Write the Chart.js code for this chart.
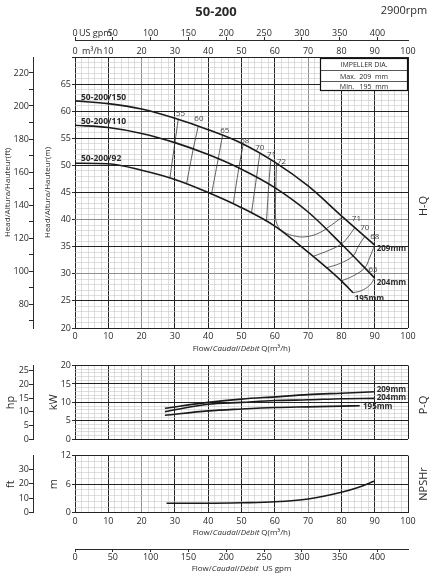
<!DOCTYPE html>
<html>
<head>
<meta charset="utf-8">
<script src="https://cdn.jsdelivr.net/npm/chart.js@4.4.0/dist/chart.umd.min.js"></script>
<style>
  body { margin: 0; background: #fff; }
  #wrap { position: relative; width: 437px; height: 580px; }
  #wrap canvas { position: absolute; left: 0; }
</style>
</head>
<body>
<div id="wrap">
  <canvas id="hq" width="437" height="356" style="top:0px"></canvas>
  <canvas id="pq" width="437" height="92" style="top:356px"></canvas>
  <canvas id="np" width="437" height="132" style="top:448px"></canvas>
</div>
<script>
// H-Q curves, flow in m3/h, head in m
const hqFlow = [0, 10, 20, 30, 40, 50, 60, 70, 80, 90];
const head209 = [61.9, 61.4, 60.4, 58.7, 56.6, 54.1, 50.6, 46.2, 40.7, 35.3];
const head204 = [57.4, 57.0, 55.9, 54.2, 52.0, 49.3, 45.9, 41.4, 35.5, 29.2];
const flow195 = [0, 10, 20, 30, 40, 50, 60, 70, 80, 83.5];
const head195 = [50.4, 50.3, 49.1, 47.4, 45.0, 42.2, 38.8, 34.0, 28.7, 26.5];

// iso-efficiency lines [flow, head]
const eff55 = [[31, 58.5], [30, 54.2], [28.5, 47.7]];
const eff60 = [[37, 57.2], [35.5, 53.0], [33.5, 46.6]];
const eff65 = [[44.3, 55.5], [43, 51.2], [41, 44.7]];
const eff68 = [[50.5, 53.9], [49.2, 49.5], [47.5, 42.9]];
const eff70 = [[55.5, 52.2], [54.5, 47.8], [53, 41.2]];
const eff71 = [[58.8, 51.0], [58.2, 46.5], [57.5, 39.7]];
const eff72 = [[60.5, 50.4], [60.3, 45.8], [60.2, 41.0], [60.7, 39.1], [62.5, 37.8], [66.5, 36.9], [70, 36.9], [73.5, 37.6], [77, 39.0], [80.3, 40.5]];
const eff70b = [[84, 38.5], [82, 36.8], [80, 35.5], [76.5, 34.4], [71.5, 33.2]];
const eff68b = [[87, 36.9], [85, 35.0], [83.5, 33.3], [79.5, 31.9], [75.5, 31.1]];
const eff66b = [[90, 35.3], [88.5, 33.0], [87, 31.1], [83.5, 29.6], [80, 28.7]];
const eff65b = [[90, 29.2], [88.5, 27.9], [86, 26.9], [83.5, 26.5]];

const effText = ['55', '60', '65', '68', '70', '71', '72', '71', '70', '68', '65'];
const effTextFlow = [31.7, 37.2, 45, 51, 55.5, 59, 62, 84.5, 87, 90, 89.5];
const effTextHead = [59.6, 58.6, 56.4, 54.5, 53.2, 51.9, 50.7, 40.1, 38.5, 36.8, 30.7];

const curveNames = ['50-200/150', '50-200/110', '50-200/92'];
const curveNameHead = [62.5, 58.0, 51.2];
const diaText = ['209mm', '204mm', '195mm'];
const diaTextFlow = [90.6, 90.6, 84];
const diaTextHead = [34.6, 28.3, 25.4];

// P-Q, kW
const pqFlow = [27, 40, 50, 60, 70, 80, 90];
const kw209 = [8.4, 10.0, 10.9, 11.5, 12.1, 12.5, 12.9];
const kw204 = [7.5, 9.5, 10.0, 10.5, 10.7, 11.0, 11.1];
const pqFlow195 = [27, 40, 50, 60, 70, 80, 85.5];
const kw195 = [6.5, 7.7, 8.2, 8.6, 8.8, 9.0, 9.1];
const pqTextFlow = [90.6, 90.6, 86.5];
const pqTextKw = [13.4, 11.2, 8.7];

// NPSHr, m
const npFlow = [27.5, 40, 50, 60, 70, 80, 85, 89.8];
const npsh = [2.0, 2.0, 2.1, 2.3, 2.9, 4.3, 5.3, 6.6];

const FT_PER_M = 3.28084;
const HP_PER_KW = 1.341;
const M3H_PER_GPM = 0.22712;

const FONT = "'Open Sans', 'DejaVu Sans', sans-serif";
const TEXT = '#2a2a2a';
const GRID_DARK = '#222';
const GRID_MID = '#8f8f8f';
const GRID_MINOR = '#c8c8c8';

function range(a, b, step) {
  const out = [];
  for (let v = a; v <= b + 1e-9; v += step) out.push(Math.round(v * 100) / 100);
  return out;
}
function isMul(v, step) {
  const r = v / step;
  return Math.abs(r - Math.round(r)) < 1e-6;
}
function pts(xs, ys) { return xs.map((x, i) => ({ x: x, y: ys[i] })); }
function pairs(list) { return list.map(p => ({ x: p[0], y: p[1] })); }
function font(size, style) { return { family: FONT, size: size, style: style || 'normal' }; }

function gridStyle(major, grayList) {
  return {
    color: c => {
      const v = c.tick ? c.tick.value : 0;
      if (!isMul(v, major)) return GRID_MINOR;
      return grayList.includes(v) ? GRID_MID : GRID_DARK;
    },
    lineWidth: c => isMul(c.tick ? c.tick.value : 0, major) ? 1 : 0.6
  };
}

// flow axis shared by all three panels
function flowAxis(showLabels, height) {
  return {
    type: 'linear', position: 'bottom', min: 0, max: 100, weight: 0,
    afterBuildTicks: s => { s.ticks = range(0, 100, 2).map(v => ({ value: v })); },
    afterFit: s => { s.height = height; },
    border: { display: false },
    grid: Object.assign(gridStyle(10, [20, 70]), { drawTicks: false }),
    ticks: {
      display: showLabels, autoSkip: false, maxRotation: 0, padding: 3, color: TEXT, font: font(9),
      callback: v => isMul(v, 10) ? String(v) : ''
    }
  };
}

function valueAxis(min, max, minor, major, gray, width, title, titlePad, topLabel) {
  return {
    type: 'linear', position: 'left', min: min, max: max, weight: 0,
    afterBuildTicks: s => { s.ticks = range(min, max, minor).map(v => ({ value: v })); },
    afterFit: s => { s.width = width; },
    border: { display: false },
    grid: Object.assign(gridStyle(major, gray), {
      drawTicks: true, tickLength: 3,
      tickColor: c => isMul(c.tick.value, major) ? TEXT : 'rgba(0,0,0,0)'
    }),
    ticks: {
      autoSkip: false, padding: 1, color: TEXT, font: font(9),
      callback: v => (isMul(v, major) && (topLabel || v < max)) ? String(v) : ''
    },
    title: { display: true, text: title, color: TEXT, font: font(title.length > 3 ? 8 : 11), padding: { top: titlePad, bottom: 0 } }
  };
}

function unitAxis(min, max, tickVals, labelStep, title, titlePad) {
  return {
    type: 'linear', position: 'left', min: min, max: max, weight: 1,
    afterBuildTicks: s => { s.ticks = tickVals.map(v => ({ value: v })); },
    afterFit: s => { s.width = 33; },
    border: { display: true, color: TEXT, width: 1 },
    grid: { drawOnChartArea: false, drawTicks: true, tickLength: 4, color: TEXT, lineWidth: 1 },
    ticks: {
      autoSkip: false, padding: 0, color: TEXT, font: font(9),
      callback: v => isMul(v, labelStep) ? String(v) : ''
    },
    title: { display: true, text: title, color: TEXT, font: font(title.length > 3 ? 8 : 11), padding: { top: titlePad, bottom: 0 } }
  };
}

function gpmAxis(position, height, pad) {
  return {
    type: 'linear', position: position, min: 0, max: 100 / M3H_PER_GPM, weight: 1,
    afterBuildTicks: s => { s.ticks = range(0, 400, 50).map(v => ({ value: v })); },
    afterFit: s => { s.height = height; },
    border: { display: true, color: TEXT, width: 1 },
    grid: { drawOnChartArea: false, drawTicks: true, tickLength: 3, color: TEXT, lineWidth: 1 },
    ticks: { autoSkip: false, maxRotation: 0, padding: pad, color: TEXT, font: font(9) }
  };
}

function mainLine(data) {
  return { data: data, showLine: true, borderColor: '#1a1a1a', borderWidth: 1.6, pointRadius: 0, cubicInterpolationMode: 'monotone', fill: false };
}
function thinLine(data) {
  return { data: data, showLine: true, borderColor: '#3a3a3a', borderWidth: 0.8, pointRadius: 0, tension: 0.4, fill: false };
}

function vText(ctx, text, x, y, f) {
  ctx.save();
  ctx.translate(x, y);
  ctx.rotate(-Math.PI / 2);
  ctx.font = f;
  ctx.textAlign = 'center';
  ctx.textBaseline = 'middle';
  ctx.fillText(text, 0, 0);
  ctx.restore();
}

function richText(ctx, parts, cx, y, size) {
  let total = 0;
  parts.forEach(p => { ctx.font = p[1] + size + 'px ' + FONT; total += ctx.measureText(p[0]).width; });
  let x = cx - total / 2;
  ctx.textAlign = 'left';
  ctx.textBaseline = 'middle';
  parts.forEach(p => {
    ctx.font = p[1] + size + 'px ' + FONT;
    ctx.fillText(p[0], x, y);
    x += ctx.measureText(p[0]).width;
  });
}

const flowTitle = [['Flow/', ''], ['Caudal', 'italic '], ['/', ''], ['D\u00e9bit', 'italic '], [' Q(m\u00b3/h)', '']];
const gpmTitle = [['Flow/', ''], ['Caudal', 'italic '], ['/', ''], ['D\u00e9bit', 'italic '], ['  US gpm', '']];

const commonOptions = {
  responsive: false,
  maintainAspectRatio: false,
  animation: false,
  events: [],
  plugins: { legend: { display: false }, tooltip: { enabled: false } }
};

// ---------- H-Q panel ----------
const hqText = {
  id: 'hqText',
  afterDatasetsDraw(chart) {
    const { ctx, chartArea: a, scales: { x, y } } = chart;
    ctx.save();
    ctx.fillStyle = TEXT;

    ctx.font = 'bold 8.5px ' + FONT;
    ctx.textAlign = 'left';
    ctx.textBaseline = 'middle';
    curveNames.forEach((t, i) => ctx.fillText(t, x.getPixelForValue(1.8), y.getPixelForValue(curveNameHead[i])));

    ctx.font = 'bold 8px ' + FONT;
    diaText.forEach((t, i) => ctx.fillText(t, x.getPixelForValue(diaTextFlow[i]), y.getPixelForValue(diaTextHead[i])));

    ctx.fillStyle = '#444';
    ctx.font = '8px ' + FONT;
    ctx.textAlign = 'center';
    effText.forEach((t, i) => ctx.fillText(t, x.getPixelForValue(effTextFlow[i]), y.getPixelForValue(effTextHead[i])));

    // impeller table
    const bw = 88, bh = 33, bx = a.right - bw, by = a.top + 1;
    ctx.fillStyle = '#fff';
    ctx.fillRect(bx, by, bw, bh);
    ctx.strokeStyle = '#111';
    ctx.lineWidth = 1.2;
    ctx.strokeRect(bx + 0.5, by + 0.5, bw - 1, bh - 1);
    ctx.lineWidth = 0.7;
    ctx.beginPath();
    ctx.moveTo(bx, by + 12.5); ctx.lineTo(bx + bw, by + 12.5);
    ctx.moveTo(bx, by + 23.5); ctx.lineTo(bx + bw, by + 23.5);
    ctx.stroke();
    ctx.fillStyle = TEXT;
    ctx.font = '7px ' + FONT;
    ctx.textAlign = 'center';
    ctx.fillText('IMPELLER DIA.', bx + bw / 2, by + 7);
    ctx.fillText('Max.  209  mm', bx + bw / 2, by + 18.5);
    ctx.fillText('Min.   195  mm', bx + bw / 2, by + 28.5);
    ctx.restore();
  },
  afterDraw(chart) {
    const { ctx, chartArea: a } = chart;
    ctx.save();
    ctx.fillStyle = TEXT;
    ctx.textBaseline = 'middle';
    ctx.textAlign = 'center';
    ctx.font = 'bold 13px ' + FONT;
    ctx.fillText('50-200', 216, 12);
    ctx.font = '11px ' + FONT;
    ctx.fillText('2900rpm', 404, 11);
    ctx.font = '9px ' + FONT;
    ctx.textAlign = 'left';
    ctx.fillText('US gpm', a.left + 4, 33.5);
    ctx.fillText('m\u00b3/h', a.left + 7, 51.5);
    richText(ctx, flowTitle, (a.left + a.right) / 2, a.bottom + 21, 8);
    vText(ctx, 'H-Q', 424, 206, '11px ' + FONT);
    ctx.restore();
  }
};

new Chart(document.getElementById('hq'), {
  type: 'scatter',
  data: {
    datasets: [
      mainLine(pts(hqFlow, head209)),
      mainLine(pts(hqFlow, head204)),
      mainLine(pts(flow195, head195)),
      ...[eff55, eff60, eff65, eff68, eff70, eff71, eff72, eff70b, eff68b, eff66b, eff65b].map(c => thinLine(pairs(c)))
    ]
  },
  options: Object.assign({}, commonOptions, {
    layout: { padding: { top: 20, left: 0, right: 29, bottom: 0 } },
    scales: {
      x: flowAxis(true, 28),
      xTop: {
        type: 'linear', position: 'top', min: 0, max: 100, weight: 0,
        afterBuildTicks: s => { s.ticks = range(0, 100, 10).map(v => ({ value: v })); },
        afterFit: s => { s.height = 17; },
        border: { display: false },
        grid: { display: false, drawTicks: false },
        ticks: { autoSkip: false, maxRotation: 0, padding: 0, color: TEXT, font: font(9) }
      },
      xGpm: gpmAxis('top', 20, -2),
      y: valueAxis(20, 70, 1, 5, [30, 40], 42, 'Head/Altura/Hauteur(m)', 10, false),
      yFt: unitAxis(20 * FT_PER_M, 70 * FT_PER_M, range(70, 220, 10), 20, 'Head/Altura/Hauteur(ft)', 3)
    }
  }),
  plugins: [hqText]
});

// ---------- P-Q panel ----------
const pqText = {
  id: 'pqText',
  afterDatasetsDraw(chart) {
    const { ctx, scales: { x, y } } = chart;
    ctx.save();
    ctx.fillStyle = TEXT;
    ctx.font = 'bold 8px ' + FONT;
    ctx.textAlign = 'left';
    ctx.textBaseline = 'middle';
    diaText.forEach((t, i) => ctx.fillText(t, x.getPixelForValue(pqTextFlow[i]), y.getPixelForValue(pqTextKw[i])));
    vText(ctx, 'P-Q', 424, 49, '11px ' + FONT);
    ctx.restore();
  }
};

new Chart(document.getElementById('pq'), {
  type: 'scatter',
  data: {
    datasets: [
      mainLine(pts(pqFlow, kw209)),
      mainLine(pts(pqFlow, kw204)),
      mainLine(pts(pqFlow195, kw195))
    ]
  },
  options: Object.assign({}, commonOptions, {
    layout: { padding: { top: 9.5, left: 0, right: 29, bottom: 8.7 } },
    scales: {
      x: flowAxis(false, 0),
      y: valueAxis(0, 20, 1, 5, [], 42, 'kW', 14, true),
      yHp: unitAxis(0, 20 * HP_PER_KW, range(0, 25, 5), 5, 'hp', 4)
    }
  }),
  plugins: [pqText]
});

// ---------- NPSHr panel ----------
const npText = {
  id: 'npText',
  afterDraw(chart) {
    const { ctx, chartArea: a } = chart;
    ctx.save();
    ctx.fillStyle = TEXT;
    richText(ctx, flowTitle, (a.left + a.right) / 2, a.bottom + 20, 8);
    richText(ctx, gpmTitle, (a.left + a.right) / 2, 121, 8);
    vText(ctx, 'NPSHr', 424, 36, '11px ' + FONT);
    ctx.restore();
  }
};

new Chart(document.getElementById('np'), {
  type: 'scatter',
  data: { datasets: [mainLine(pts(npFlow, npsh))] },
  options: Object.assign({}, commonOptions, {
    layout: { padding: { top: 7.7, left: 0, right: 29, bottom: 0 } },
    scales: {
      x: flowAxis(true, 36.3),
      xGpm: gpmAxis('bottom', 31, 0),
      y: valueAxis(0, 12, 1.2, 6, [], 42, 'm', 14, true),
      yFt: unitAxis(0, 12 * FT_PER_M, range(0, 30, 10), 10, 'ft', 4)
    }
  }),
  plugins: [npText]
});
</script>
</body>
</html>
